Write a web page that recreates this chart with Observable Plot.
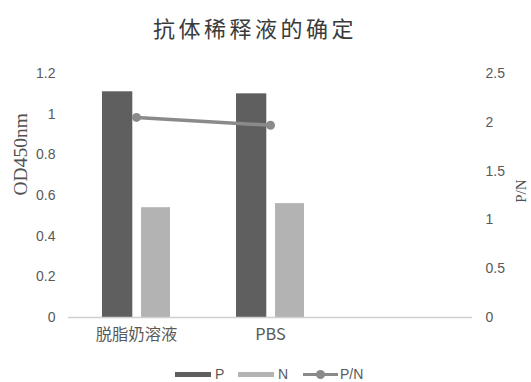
<!DOCTYPE html>
<html>
<head>
<meta charset="utf-8">
<script src="https://cdn.jsdelivr.net/npm/d3@7"></script>
<script src="https://cdn.jsdelivr.net/npm/@observablehq/plot@0.6"></script>
<style>
  html, body { margin: 0; padding: 0; background: #fff; }
  #wrap { position: relative; width: 531px; height: 382px; overflow: hidden; font-family: "Noto Sans CJK SC", "Noto Sans", sans-serif; }
  #title { position: absolute; left: 3px; width: 504px; top: 11px; text-align: center; font-size: 22px; letter-spacing: 3.5px; color: #3a3a3a; line-height: 32px; }
  #chart { position: absolute; left: 0; top: 50px; }
  #legend { position: absolute; top: 364px; left: 0; width: 531px; height: 20px; font-family: "Liberation Sans", Arial, sans-serif; font-size: 14px; color: #595959; }
  .lg { position: absolute; top: 0; line-height: 20px; }
  .sw { position: absolute; top: 8px; height: 5px; }
</style>
</head>
<body>
<div id="wrap">
  <div id="title">抗体稀释液的确定</div>
  <div id="chart"></div>
  <div id="legend"></div>
</div>
<script>
const categories = ["脱脂奶溶液", "PBS", " "];
const seriesNames = ["P", "N", "P/N"];
const pValues = [1.11, 1.10];
const nValues = [0.54, 0.56];
const pnValues = [2.05, 1.97];
const leftTicks = [0, 0.2, 0.4, 0.6, 0.8, 1, 1.2];
const rightTicks = [0, 0.5, 1, 1.5, 2, 2.5];

const colors = { P: "#5f5f5f", N: "#b3b3b3", "P/N": "#8a8a8a" };
const k = 1.2 / 2.5; // right axis -> left axis mapping

const barData = [];
pValues.forEach((v, i) => barData.push({ cat: categories[i], series: "P", value: v }));
nValues.forEach((v, i) => barData.push({ cat: categories[i], series: "N", value: v }));
const lineData = pnValues.map((v, i) => ({ cat: categories[i], value: v, scaled: v * k }));

const W = 531, H = 300, mL = 68, mR = 59, mT = 23, mB = 33;
const band = (W - mL - mR) / categories.length;
const pInset = { insetLeft: band * 0.245, insetRight: band * 0.525 };
const nInset = { insetLeft: band * 0.535, insetRight: band * 0.245 };

const chart = Plot.plot({
  width: W,
  height: H,
  marginLeft: mL,
  marginRight: mR,
  marginTop: mT,
  marginBottom: mB,
  style: { fontFamily: "'Liberation Sans', Arial, sans-serif", background: "transparent", overflow: "visible" },
  x: { type: "band", domain: categories, padding: 0 },
  y: { domain: [0, 1.2] },
  marks: [
    Plot.barY(barData.filter(d => d.series === "P"), { x: "cat", y: "value", fill: colors.P, ...pInset }),
    Plot.barY(barData.filter(d => d.series === "N"), { x: "cat", y: "value", fill: colors.N, ...nInset }),
    Plot.ruleY([0], { stroke: "#d0d0d0", strokeWidth: 1.5 }),
    Plot.line(lineData, { x: "cat", y: "scaled", stroke: colors["P/N"], strokeWidth: 3.5 }),
    Plot.dot(lineData, { x: "cat", y: "scaled", r: 4.5, fill: colors["P/N"], stroke: "none" }),
    Plot.axisY(leftTicks, { anchor: "left", tickSize: 0, tickPadding: 13, fontSize: 14, color: "#595959", label: null, tickFormat: d => String(d) }),
    Plot.axisY(rightTicks.map(v => v * k), { anchor: "right", tickSize: 0, tickPadding: 13, fontSize: 14, color: "#595959", label: null, tickFormat: d => String(Math.round(d / k * 10) / 10) }),
    Plot.axisX({ anchor: "bottom", tickSize: 0, tickPadding: 11, fontSize: 16.3, color: "#595959", label: null, fontFamily: "'Noto Sans CJK SC', sans-serif" }),
    Plot.text(["OD450nm"], { frameAnchor: "left", dx: -48, rotate: -90, fontSize: 19.5, fill: "#505050", fontFamily: "'Liberation Serif', 'Times New Roman', serif" }),
    Plot.text(["P/N"], { frameAnchor: "right", dx: 49, dy: -16, rotate: -90, fontSize: 15, fill: "#505050", fontFamily: "'Liberation Serif', 'Times New Roman', serif" })
  ]
});
document.getElementById("chart").appendChild(chart);

// legend
const legend = document.getElementById("legend");
const items = [
  { name: seriesNames[0], x: 175, type: "bar" },
  { name: seriesNames[1], x: 238, type: "bar" },
  { name: seriesNames[2], x: 303, type: "line" }
];
items.forEach(it => {
  if (it.type === "bar") {
    const s = document.createElement("div");
    s.className = "sw";
    s.style.left = it.x + "px";
    s.style.width = "36px";
    s.style.background = colors[it.name];
    legend.appendChild(s);
  } else {
    const s = document.createElement("div");
    s.className = "sw";
    s.style.left = it.x + "px";
    s.style.width = "35px";
    s.style.top = "9px";
    s.style.height = "3px";
    s.style.background = colors[it.name];
    legend.appendChild(s);
    const d = document.createElement("div");
    d.style.cssText = `position:absolute;left:${it.x + 13}px;top:6px;width:9px;height:9px;border-radius:50%;background:${colors[it.name]}`;
    legend.appendChild(d);
  }
  const t = document.createElement("div");
  t.className = "lg";
  t.style.left = (it.x + (it.type === "bar" ? 40 : 37)) + "px";
  t.textContent = it.name;
  legend.appendChild(t);
});
</script>
</body>
</html>
